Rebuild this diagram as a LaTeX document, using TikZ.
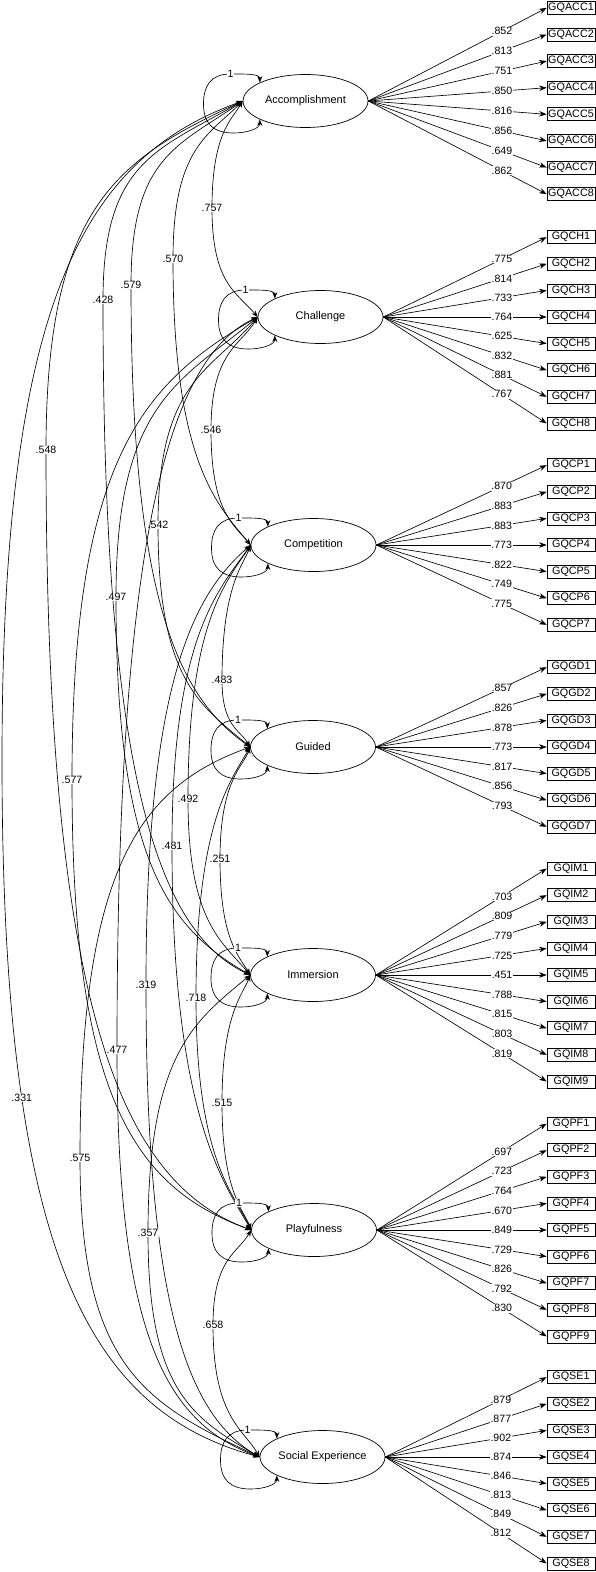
\documentclass[tikz,border=0pt]{standalone}
\usepackage{fontspec}
\setmainfont{Liberation Sans}
\usetikzlibrary{arrows.meta,positioning,calc,shapes.geometric}
\tikzset{
  factor/.style={draw, ellipse, line width=0.7pt, minimum width=125pt, minimum height=53pt,
                 inner sep=0pt, font=\fontsize{11}{12}\selectfont},
  item/.style={draw, rectangle, line width=0.7pt, minimum width=48pt, minimum height=13pt,
               inner sep=0pt, font=\fontsize{10.8}{12}\selectfont},
  coef/.style={fill=white, inner sep=0.6pt, font=\fontsize{10.6}{12}\selectfont},
  load/.style={-{Stealth[length=7.5pt,width=5.5pt]}, line width=0.65pt},
  cov/.style={{Stealth[length=6.5pt,width=5pt]}-{Stealth[length=6.5pt,width=5pt]}, line width=0.65pt},
}

\begin{document}
\begin{tikzpicture}[x=1pt,y=1pt]
  \useasboundingbox (0,0) rectangle (596,-1572);

  % latent factors
  \node[factor] (acc)  at (305.5,-101)  {Accomplishment};
  \node[factor] (chal) at (320.5,-317)  {Challenge};
  \node[factor] (comp) at (313.5,-545)  {Competition};
  \node[factor] (guid) at (313,-747)    {Guided};
  \node[factor] (imm)  at (313,-975)    {Immersion};
  \node[factor] (play) at (314,-1230)   {Playfulness};
  \node[factor] (soc)  at (322.5,-1457) {Social Experience};

  % covariances between factors
  \foreach \a/\b/\lx/\ly/\ta/\tb/\q/\r in {
      acc/chal/212/208/240/130/0/.757, acc/comp/173/259/225/130/0/.570,
      acc/guid/131/285/215/145/0/.579, acc/imm/103/300/210/155/0/.428,
      acc/play/46/450/205/160/0/.548, acc/soc/2/760/200/165/0.28/.331,
      chal/comp/211/430/240/130/0/.546, chal/guid/158/525/230/140/0/.542,
      chal/imm/116/597/220/150/0/.497, chal/play/72/780/210/160/0/.577,
      chal/soc/117/1050/205/160/0/.477,
      comp/guid/222/680/250/120/0/.483, comp/imm/188/799/237/130/0/.492,
      comp/play/172/846/235/120/0/.481, comp/soc/146/985/221/150/0/.319,
      guid/imm/220/859/250/120/0/.251, guid/play/196/998/240/115/0/.718,
      guid/soc/80/1158/200/155/0/.575,
      imm/play/222/1103/250/110/0/.515, imm/soc/148/1233/220/150/0/.357,
      play/soc/213/1325/240/120/0/.658}{
    \coordinate (bend) at (\lx,-\ly);
    \draw[cov] let \p1=(\a.west), \p2=(bend), \p3=(\b.west) in
      (\p1) .. controls +(\ta:{0.7*(\x1-\x2)}) and +(0,{0.7*(\y1-\y2)}) .. (\p2)
            .. controls +(0,{0.7*(\y3-\y2)}) and +(\tb:{0.7*(\x3-\x2)}) .. (\p3)
      node[coef, pos=\q] {\r};
  }

  % variances fixed to 1
  \foreach \f in {acc,chal,comp,guid,imm,play,soc}{
    \draw[cov] (\f.158) .. controls +(0,9) and +(14,0) .. ([shift={(-75,27)}]\f.center) node[coef] {1}
      .. controls +(-20,0) and +(0,18) .. ([shift={(-102,-3)}]\f.center)
      .. controls +(0,-20) and +(-20,0) .. ([shift={(-72,-32)}]\f.center)
      .. controls +(14,0) and +(0,-9) .. (\f.202);
  }

  % indicators and loadings
  \foreach \f/\code/\c/\p/\lst in {
      acc/ACC/4.5/.749/{.852,.813,.751,.850,.816,.856,.649,.862},
      chal/CH/4/.726/{.775,.814,.733,.764,.625,.832,.881,.767},
      comp/CP/4/.736/{.870,.883,.883,.773,.822,.749,.775},
      guid/GD/4/.739/{.857,.826,.878,.773,.817,.856,.793},
      imm/IM/5/.739/{.703,.809,.779,.725,.451,.788,.815,.803,.819},
      play/PF/5/.736/{.697,.723,.764,.670,.849,.729,.826,.792,.830},
      soc/SE/4/.716/{.879,.877,.902,.874,.846,.813,.849,.812}}{
    \foreach \v [count=\k] in \lst {
      \node[item, yshift={-(\k-\c)*26.6}] (\f\k) at (571,0 |- \f.center) {GQ\code\k};
      \draw[load] (\f.east) -- (\f\k.west) node[coef, pos=\p] {\v};
    }
  }
\end{tikzpicture}
\end{document}
